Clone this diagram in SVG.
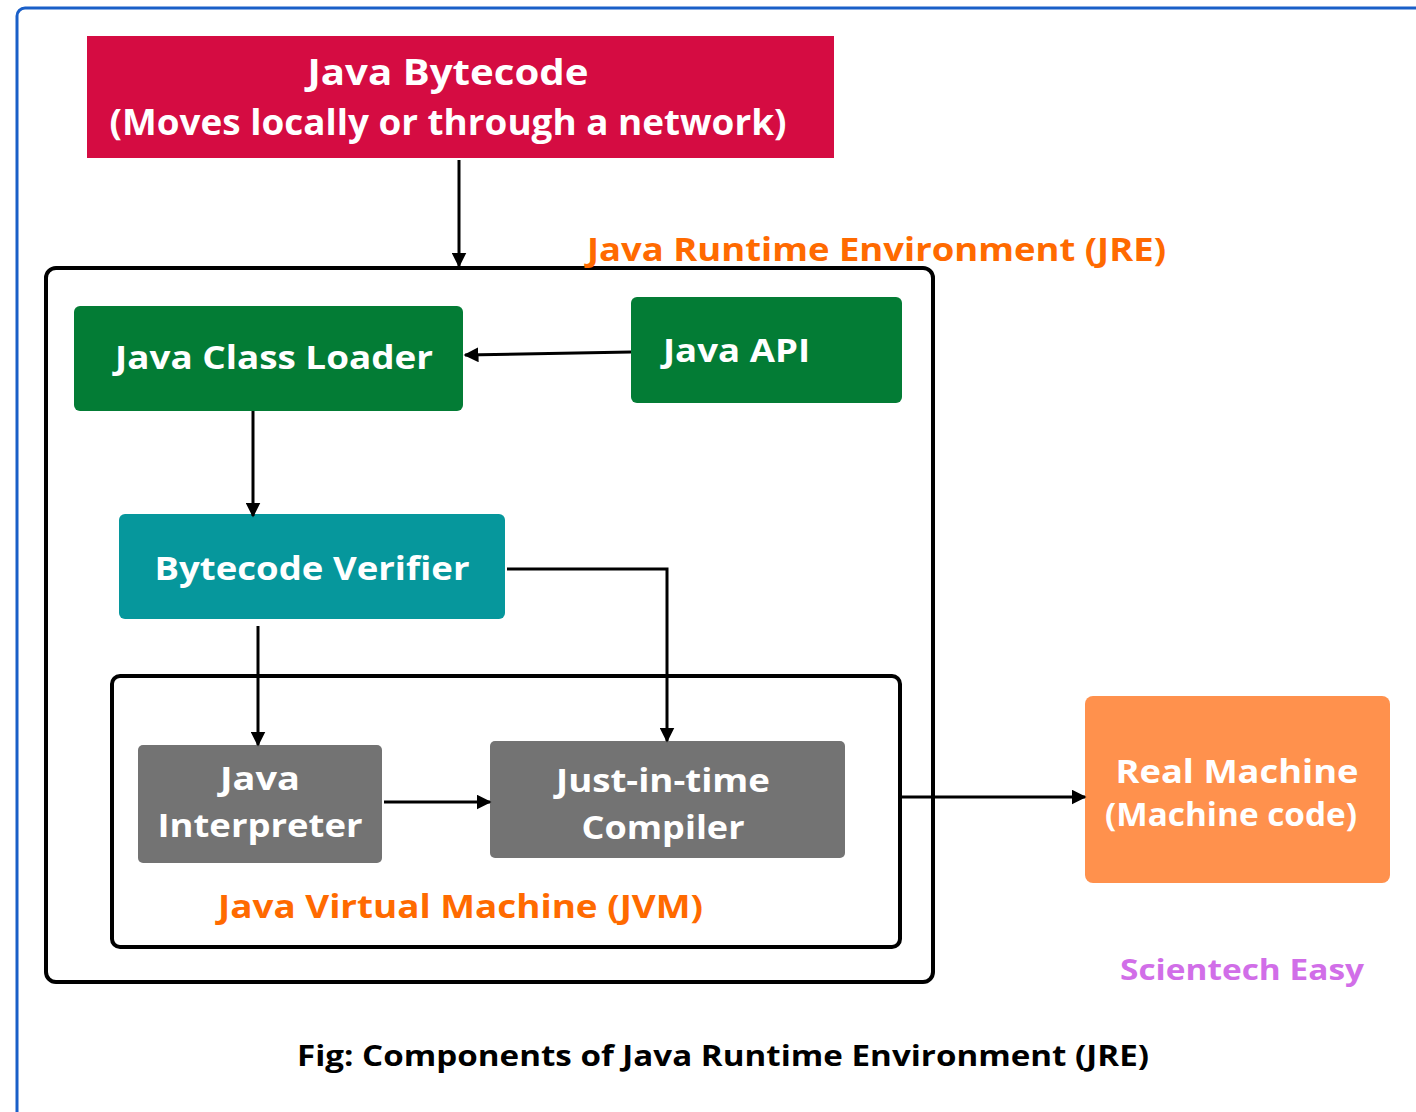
<svg xmlns="http://www.w3.org/2000/svg" width="1416" height="1112" viewBox="0 0 1416 1112">
<defs>
<style>
.t{font-family:"Open Sans","Liberation Sans",sans-serif;font-weight:700;fill:#ffffff}
.o{font-family:"Open Sans","Liberation Sans",sans-serif;font-weight:700;fill:#ff6a00}
.frame{fill:none;stroke:#000;stroke-width:4}
.c{fill:none;stroke:#000;stroke-width:3}
</style>
<marker id="ah" viewBox="0 0 10 10" refX="9" refY="5" markerWidth="5" markerHeight="5" orient="auto" markerUnits="strokeWidth">
<path d="M0,0 L10,5 L0,10 z" fill="#000"/>
</marker>
</defs>
<rect width="1416" height="1112" fill="#fff"/>
<rect x="17" y="8" width="1430" height="1130" rx="8" fill="none" stroke="#1a5fc8" stroke-width="3"/>

<g id="jre">
<rect class="frame" x="46" y="268" width="887" height="714" rx="10"/>
<text class="o" x="587" y="261" font-size="33" textLength="579" lengthAdjust="spacingAndGlyphs">Java Runtime Environment (JRE)</text>
</g>
<g id="jvm">
<rect class="frame" x="112" y="676" width="788" height="271" rx="8"/>
<text class="o" x="218" y="918" font-size="33" textLength="485" lengthAdjust="spacingAndGlyphs">Java Virtual Machine (JVM)</text>
</g>

<g id="bytecode">
<rect x="87" y="36" width="747" height="122" fill="#d50c42"/>
<text class="t" x="448" y="85" font-size="36" text-anchor="middle" textLength="281" lengthAdjust="spacingAndGlyphs">Java Bytecode</text>
<text class="t" x="448" y="135" font-size="36" text-anchor="middle" textLength="677" lengthAdjust="spacingAndGlyphs">(Moves locally or through a network)</text>
</g>
<g id="classloader">
<rect x="74" y="306" width="389" height="105" rx="6" fill="#037c35"/>
<text class="t" x="274" y="369" font-size="32" text-anchor="middle" textLength="318" lengthAdjust="spacingAndGlyphs">Java Class Loader</text>
</g>
<g id="javaapi">
<rect x="631" y="297" width="271" height="106" rx="6" fill="#037c35"/>
<text class="t" x="663" y="362" font-size="32" textLength="147" lengthAdjust="spacingAndGlyphs">Java API</text>
</g>
<g id="verifier">
<rect x="119" y="514" width="386" height="105" rx="6" fill="#06979c"/>
<text class="t" x="312" y="580" font-size="32" text-anchor="middle" textLength="315" lengthAdjust="spacingAndGlyphs">Bytecode Verifier</text>
</g>
<g id="interpreter">
<rect x="138" y="745" width="244" height="118" rx="5" fill="#737373"/>
<text class="t" x="260" y="790" font-size="32" text-anchor="middle" textLength="80" lengthAdjust="spacingAndGlyphs">Java</text>
<text class="t" x="260" y="837" font-size="32" text-anchor="middle" textLength="205" lengthAdjust="spacingAndGlyphs">Interpreter</text>
</g>
<g id="jit">
<rect x="490" y="741" width="355" height="117" rx="5" fill="#737373"/>
<text class="t" x="663" y="792" font-size="32" text-anchor="middle" textLength="214" lengthAdjust="spacingAndGlyphs">Just-in-time</text>
<text class="t" x="663" y="839" font-size="32" text-anchor="middle" textLength="163" lengthAdjust="spacingAndGlyphs">Compiler</text>
</g>
<g id="realmachine">
<rect x="1085" y="696" width="305" height="187" rx="8" fill="#ff914d"/>
<text class="t" x="1237" y="783" font-size="32" text-anchor="middle" textLength="243" lengthAdjust="spacingAndGlyphs">Real Machine</text>
<text class="t" x="1231" y="826" font-size="32" text-anchor="middle" textLength="252" lengthAdjust="spacingAndGlyphs">(Machine code)</text>
</g>
<g id="labels">
<text x="1120" y="980" font-family="'Open Sans','Liberation Sans',sans-serif" font-weight="700" font-size="29" fill="#d16ee8" textLength="244" lengthAdjust="spacingAndGlyphs">Scientech Easy</text>
<text x="297" y="1066" font-family="'Open Sans','Liberation Sans',sans-serif" font-weight="700" font-size="29" fill="#000" textLength="852" lengthAdjust="spacingAndGlyphs">Fig: Components of Java Runtime Environment (JRE)</text>
</g>

<g id="connectors">
<line class="c" x1="459" y1="160" x2="459" y2="266" marker-end="url(#ah)"/>
<line class="c" x1="631" y1="352" x2="465" y2="355" marker-end="url(#ah)"/>
<line class="c" x1="253" y1="411" x2="253" y2="516" marker-end="url(#ah)"/>
<polyline class="c" points="507,569 667,569 667,741" marker-end="url(#ah)"/>
<line class="c" x1="258" y1="626" x2="258" y2="745" marker-end="url(#ah)"/>
<line class="c" x1="384" y1="802" x2="490" y2="802" marker-end="url(#ah)"/>
<line class="c" x1="902" y1="797" x2="1085" y2="797" marker-end="url(#ah)"/>
</g>
</svg>
